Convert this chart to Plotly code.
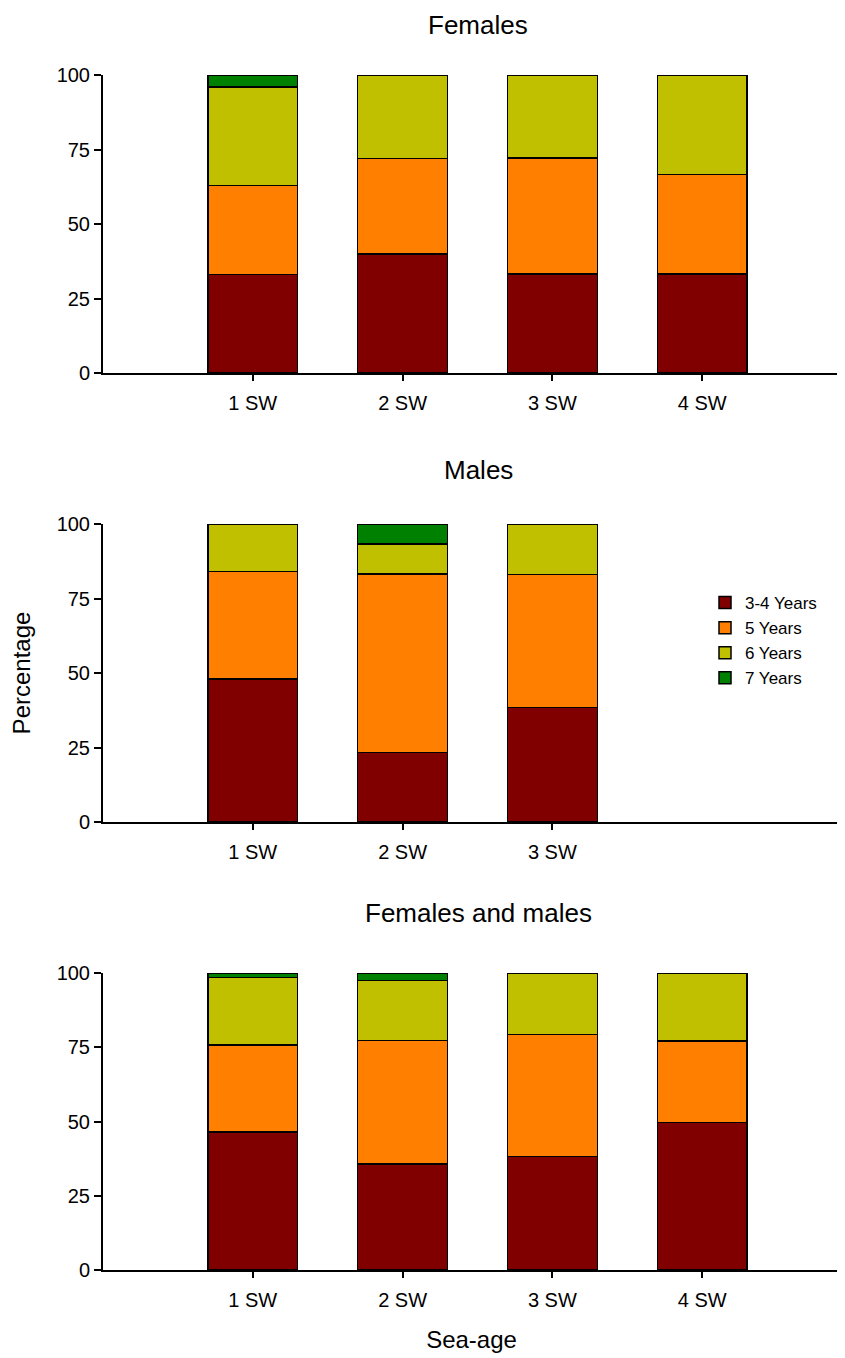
import plotly.graph_objects as go
from plotly.subplots import make_subplots

# ---- data ----
sea_age_4 = ["1 SW", "2 SW", "3 SW", "4 SW"]
sea_age_3 = ["1 SW", "2 SW", "3 SW"]
series_names = ["3-4 Years", "5 Years", "6 Years", "7 Years"]
series_colors = ["#800000", "#FF8000", "#C0C000", "#008000"]

females_34 = [33.0, 40.0, 33.3, 33.3]
females_5 = [30.0, 32.0, 38.9, 33.3]
females_6 = [33.0, 28.0, 27.8, 33.4]
females_7 = [4.0, 0.0, 0.0, 0.0]

males_34 = [48.0, 23.3, 38.5]
males_5 = [36.0, 60.0, 44.6]
males_6 = [16.0, 10.0, 16.9]
males_7 = [0.0, 6.7, 0.0]

all_34 = [46.4, 35.7, 38.2, 49.6]
all_5 = [29.4, 41.5, 41.1, 27.5]
all_6 = [22.7, 20.2, 20.7, 22.9]
all_7 = [1.5, 2.6, 0.0, 0.0]

panel_titles = ["Females", "Males", "Females and males"]
y_ticks = [0, 25, 50, 75, 100]

FONT = "Liberation Sans, Arial, sans-serif"
OFF = 8  # page body offset

W, H = 837, 1350
L_PX, R_PX = 103 - OFF, 840 - OFF
T_PX, B_PX = 75 - OFF, 1270 - OFF
span = B_PX - T_PX
xspan = R_PX - L_PX

def py(ref_px):
    return (B_PX - (ref_px - OFF)) / span

def px(ref_px):
    return ((ref_px - OFF) - L_PX) / xspan

panels = [
    (sea_age_4, [females_34, females_5, females_6, females_7]),
    (sea_age_3, [males_34, males_5, males_6, males_7]),
    (sea_age_4, [all_34, all_5, all_6, all_7]),
]

fig = make_subplots(rows=3, cols=1, vertical_spacing=0.05)

for p, (cats, vals) in enumerate(panels):
    for s, name in enumerate(series_names):
        fig.add_trace(
            go.Bar(
                x=cats, y=vals[s], name=name, width=0.6,
                marker=dict(color=series_colors[s], line=dict(color="black", width=1.5)),
                showlegend=(p == 0), legendgroup=name,
            ),
            row=p + 1, col=1,
        )

domains = [[py(373), py(75)], [py(822), py(524)], [py(1270), py(973)]]

layout_axes = {}
for i in range(3):
    sfx = "" if i == 0 else str(i + 1)
    cats = panels[i][0]
    layout_axes["xaxis" + sfx] = dict(
        type="category", range=[-1, 3.92], domain=[0, 1],
        showline=True, linecolor="black", linewidth=2,
        ticks="outside", ticklen=6, tickwidth=2, tickcolor="black",
        tickvals=cats, ticktext=cats, showgrid=False, zeroline=False,
        tickfont=dict(family=FONT, size=20, color="black"),
        ticklabelstandoff=5,
    )
    layout_axes["yaxis" + sfx] = dict(
        domain=domains[i], range=[0, 100],
        showline=True, linecolor="black", linewidth=2,
        ticks="outside", ticklen=7, tickwidth=2, tickcolor="black",
        tickvals=y_ticks, showgrid=False, zeroline=False,
        tickfont=dict(family=FONT, size=20, color="black"),
    )
    layout_axes["yaxis" + str(i + 4)] = dict(
        overlaying="y" + sfx, anchor="x" + sfx, range=[0, 100],
        ticks="inside", ticklen=7, tickwidth=2, tickcolor="black",
        tickvals=y_ticks, showticklabels=False, showgrid=False,
        zeroline=False, showline=False,
    )

fig.update_layout(**layout_axes)
fig.update_layout(
    yaxis2_title=dict(text="Percentage", font=dict(family=FONT, size=24, color="black"), standoff=20),
    xaxis3_title=dict(text="Sea-age", font=dict(family=FONT, size=24, color="black"), standoff=21),
)

title_y = [25, 470, 913]
for t, ypx in zip(panel_titles, title_y):
    fig.add_annotation(
        text=t, x=px(478), xref="paper", y=py(ypx), yref="paper",
        xanchor="center", yanchor="middle", showarrow=False, borderpad=0,
        font=dict(family=FONT, size=26, color="black"),
    )

fig.update_layout(
    width=W, height=H,
    margin=dict(l=L_PX, r=W - R_PX, t=T_PX, b=H - B_PX, autoexpand=False),
    barmode="stack",
    plot_bgcolor="white", paper_bgcolor="white",
    font=dict(family=FONT, color="black"),
    legend=dict(
        x=px(705), y=py(585), xanchor="left", yanchor="top",
        traceorder="normal", font=dict(family=FONT, size=17, color="black"),
        bgcolor="rgba(0,0,0,0)", itemwidth=30, tracegroupgap=0,
    ),
)

fig.write_html("out.html")
